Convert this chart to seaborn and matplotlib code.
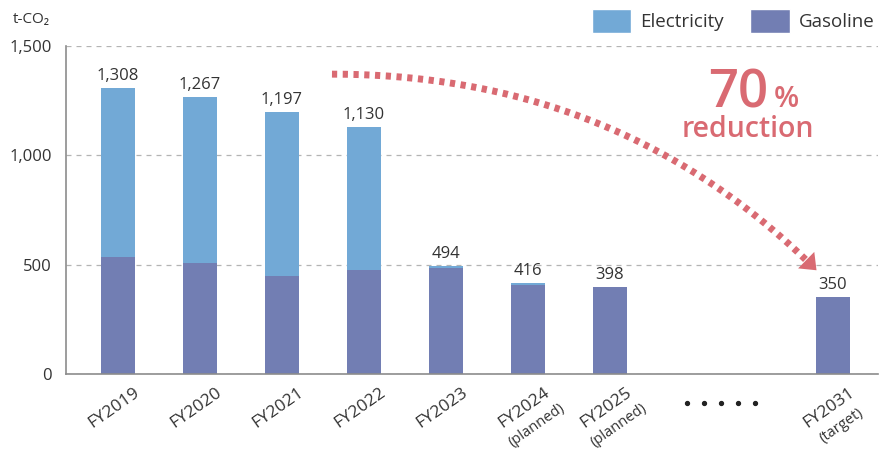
import numpy as np
import pandas as pd
import matplotlib
matplotlib.use("Agg")
import matplotlib.pyplot as plt
from matplotlib.patches import Patch
from matplotlib.transforms import blended_transform_factory
import seaborn as sns

# data
years = ["FY2019", "FY2020", "FY2021", "FY2022", "FY2023", "FY2024", "FY2025", "FY2031"]
notes = ["", "", "", "", "", "(planned)", "(planned)", "(target)"]
gasoline = [534, 506, 447, 474, 485, 407, 398, 350]
electricity = [774, 761, 750, 656, 9, 9, 0, 0]

# layout: x slots (gap before the target year)
slots = [0, 1, 2, 3, 4, 5, 6, 8.72]
dots_center = 7.36

c_elec = "#72a9d6"
c_gas = "#727eb3"
c_red = "#d96a72"
c_text = "#333333"

df = pd.DataFrame({"year": years, "pos": slots, "gasoline": gasoline, "electricity": electricity})
df["total"] = df["gasoline"] + df["electricity"]

sns.set_style("white")
plt.rcParams["font.family"] = ["Open Sans", "DejaVu Sans"]

fig = plt.figure(figsize=(8.87, 4.5), dpi=100)
ax = fig.add_axes([66 / 887, 76 / 450, (878 - 66) / 887, (374 - 45.7) / 450])

sns.barplot(data=df, x="pos", y="total", native_scale=True, color=c_elec, saturation=1,
            width=0.415, errorbar=None, linewidth=0, ax=ax)
sns.barplot(data=df, x="pos", y="gasoline", native_scale=True, color=c_gas, saturation=1,
            width=0.415, errorbar=None, linewidth=0, ax=ax)

ax.bar_label(ax.containers[0], labels=[f"{v:,}" for v in df["total"]], padding=3,
             fontsize=12, color=c_text)

ax.set_xlim(-0.634, 9.27)
ax.set_ylim(0, 1500)
ax.set_yticks([0, 500, 1000, 1500])
ax.set_yticklabels(["0", "500", "1,000", "1,500"], fontsize=12, color=c_text)
ax.set_xticks([])
ax.set_xlabel("")
ax.set_ylabel("")
ax.tick_params(axis="y", length=0, pad=10)
ax.yaxis.grid(True, linestyle=(0, (4, 4)), color="#b4b4b4", linewidth=0.9)
ax.set_axisbelow(True)
for s in ["top", "right"]:
    ax.spines[s].set_visible(False)
for s in ["left", "bottom"]:
    ax.spines[s].set_color("#8c8c8c")
    ax.spines[s].set_linewidth(1.2)

# x labels, rotated, with small notes under them
trans = blended_transform_factory(ax.transData, ax.transAxes)
for p, yr, nt in zip(slots, years, notes):
    ax.annotate(yr, xy=(p, 0), xycoords=trans, xytext=(-1.5, -27), textcoords="offset points",
                rotation=35, ha="center", va="baseline", rotation_mode="anchor",
                fontsize=12.5, color=c_text)
    if nt:
        ax.annotate(nt, xy=(p, 0), xycoords=trans, xytext=(7.5, -39), textcoords="offset points",
                    rotation=35, ha="center", va="baseline", rotation_mode="anchor",
                    fontsize=10.5, color=c_text)

dots_x = dots_center + np.arange(-2, 3) * 0.207
ax.plot(dots_x, [-0.089] * 5, "o", color="#222222", markersize=2.8, transform=trans, clip_on=False)

# curved dotted arrow
p0 = np.array([2.61, 1370.0])
p1 = np.array([6.13, 1370.0])
p2 = np.array([8.52, 474.0])
t = np.linspace(0, 0.972, 200)[:, None]
curve = (1 - t) ** 2 * p0 + 2 * (1 - t) * t * p1 + t ** 2 * p2
ax.plot(curve[:, 0], curve[:, 1], color=c_red, linewidth=5, dashes=(0.75, 0.8),
        solid_capstyle="butt", dash_capstyle="butt", clip_on=False)
ax.annotate("", xy=tuple(p2), xytext=tuple(curve[-1]),
            arrowprops=dict(arrowstyle="-|>,head_length=0.65,head_width=0.52", color=c_red,
                            lw=0, mutation_scale=16, shrinkA=0, shrinkB=0))

ax.text(7.56, 1219, "70", fontsize=38, fontweight="semibold", color=c_red, ha="center", va="baseline")
ax.text(8.15, 1219, "%", fontsize=21, fontweight="semibold", color=c_red, ha="center", va="baseline")
ax.text(7.68, 1082, "reduction", fontsize=20.5, fontweight="semibold", color=c_red, ha="center", va="baseline")

fig.text(13 / 887, 1 - 23 / 450, "t-CO₂", fontsize=11, color=c_text, va="baseline", ha="left")

handles = [Patch(facecolor=c_elec, label="Electricity"), Patch(facecolor=c_gas, label="Gasoline")]
fig.legend(handles=handles, loc="upper right", bbox_to_anchor=(875 / 887, 1 - 9 / 450), ncol=2,
           frameon=False, fontsize=13.5, handlelength=2.1, handleheight=1.6, handletextpad=0.5,
           columnspacing=1.4, labelcolor=c_text, borderaxespad=0, borderpad=0)

fig.savefig("out.png", dpi=100)
